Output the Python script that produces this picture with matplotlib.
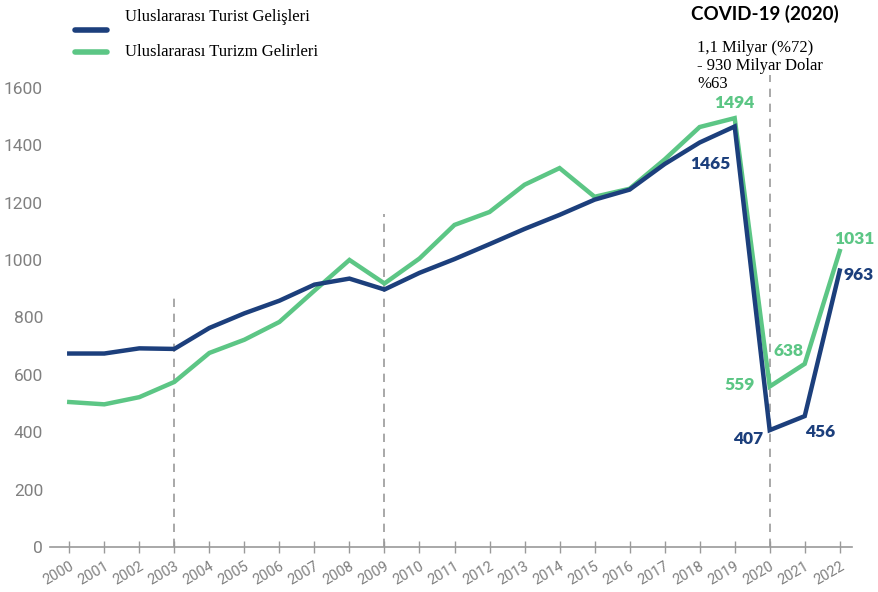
import matplotlib
matplotlib.use("Agg")
import matplotlib.pyplot as plt

years = list(range(2000, 2023))
arrivals = [674, 674, 692, 690, 763, 814, 858, 914, 935, 897, 955, 1003, 1055, 1108, 1157, 1210, 1245, 1334, 1409, 1465, 407, 456, 963]
receipts = [505, 497, 522, 575, 676, 722, 784, 893, 1000, 918, 1005, 1122, 1167, 1262, 1320, 1220, 1248, 1350, 1463, 1494, 559, 638, 1031]
yticks = [0, 200, 400, 600, 800, 1000, 1200, 1400, 1600]
vlines = [(2003, 870), (2009, 1160), (2020, 1645)]

BLUE = "#1c3f7c"
GREEN = "#5cc685"
GRAY = "#808080"

fig = plt.figure(figsize=(8.79, 5.92), dpi=100)
ax = fig.add_axes([50/879, 45/592, (852-50)/879, (547-59)/592])
ax.set_xlim(1999.45, 2022.35)
ax.set_ylim(0, 1700)

for x, top in vlines:
    ax.plot([x, x], [0, top], color="#9a9a9a", lw=1.2, ls=(0, (5, 4)), zorder=1, clip_on=False)

ax.plot(years, receipts, color=GREEN, lw=3.2, solid_joinstyle="miter", zorder=3)
ax.plot(years, arrivals, color=BLUE, lw=3.2, solid_joinstyle="miter", zorder=4)

for s in ["top", "right", "left"]:
    ax.spines[s].set_visible(False)
ax.spines["bottom"].set_color("#9a9a9a")
ax.spines["bottom"].set_linewidth(1.2)
ax.set_xticks(years)
ax.set_xticklabels([str(y) for y in years], rotation=30, ha="right", rotation_mode="anchor",
                   color=GRAY, fontsize=10.5, family=["Roboto", "DejaVu Sans"])
ax.tick_params(axis="x", direction="inout", length=8, color="#9a9a9a", width=1, pad=5)
ax.set_yticks(yticks)
ax.set_yticklabels([str(v) for v in yticks], color=GRAY, fontsize=12.5,
                   family=["Roboto", "DejaVu Sans"])
ax.tick_params(axis="y", length=0, pad=5)

# legend
fig.lines.append(plt.Line2D([75/879, 107/879], [1-30/592, 1-30/592], color=BLUE, lw=4, solid_capstyle="round", transform=fig.transFigure))
fig.lines.append(plt.Line2D([75/879, 107/879], [1-52/592, 1-52/592], color=GREEN, lw=4, solid_capstyle="round", transform=fig.transFigure))
fig.text(125/879, 1-17/592, "Uluslararası Turist Gelişleri", fontsize=12, family="Liberation Serif", va="center")
fig.text(125/879, 1-52/592, "Uluslararası Turizm Gelirleri", fontsize=12, family="Liberation Serif", va="center")

fig.text(765/879, 1-14/592, "COVID-19 (2020)", fontsize=13.5, fontweight="bold",
         family=["Lato", "DejaVu Sans"], ha="center", va="center")
fig.text(697/879, 1-66/592, "1,1 Milyar (%72)\n- 930 Milyar Dolar\n%63", fontsize=12,
         family="Liberation Serif", va="center", ha="left", linespacing=1.2)

lab = dict(fontsize=12.5, fontweight="heavy", family=["Lato", "DejaVu Sans"], va="center", ha="center",
           textcoords="offset pixels")
ax.annotate("1494", (2019, 1494), xytext=(0, 15), color=GREEN, **lab)
ax.annotate("1465", (2019, 1465), xytext=(-24, -38), color=BLUE, **lab)
ax.annotate("559", (2020, 559), xytext=(-30, 2), color=GREEN, **lab)
ax.annotate("638", (2021, 638), xytext=(-16, 13), color=GREEN, **lab)
ax.annotate("407", (2020, 407), xytext=(-22, -9), color=BLUE, **lab)
ax.annotate("456", (2021, 456), xytext=(15, -16), color=BLUE, **lab)
ax.annotate("1031", (2022, 1031), xytext=(15, 12), color=GREEN, **lab)
ax.annotate("963", (2022, 963), xytext=(19, -4), color=BLUE, **lab)

fig.savefig("out.png", dpi=100, facecolor="white")
